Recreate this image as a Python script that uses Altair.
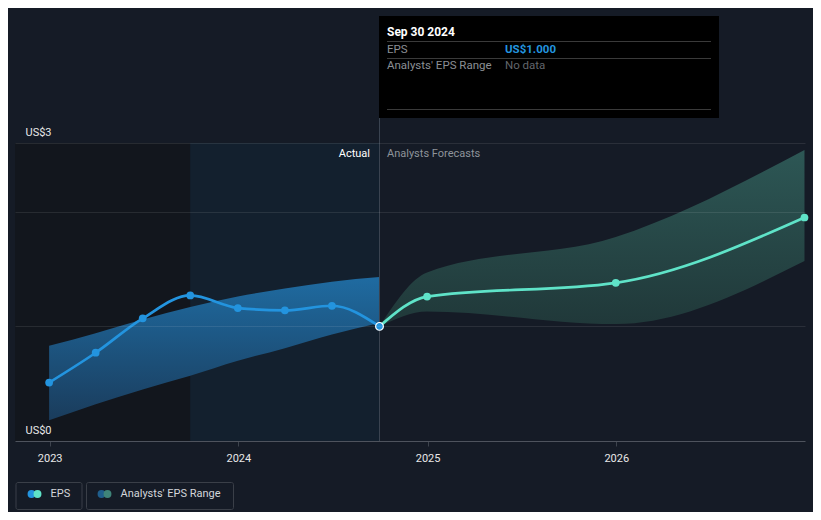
import altair as alt
import pandas as pd

# ---- data ----
actual_dates = ["2022-12-31", "2023-03-31", "2023-06-30", "2023-09-30",
                "2023-12-31", "2024-03-31", "2024-06-30", "2024-09-30"]
actual_eps = [0.51, 0.77, 1.07, 1.27, 1.16, 1.14, 1.18, 1.00]
actual_low = [0.18, 0.32, 0.45, 0.57, 0.70, 0.81, 0.93, 1.03]
actual_high = [0.83, 0.94, 1.06, 1.17, 1.26, 1.33, 1.39, 1.43]

forecast_dates = ["2024-09-30", "2024-12-31", "2025-12-31", "2026-12-31"]
forecast_eps = [1.00, 1.26, 1.38, 1.95]
forecast_low = [1.00, 1.13, 1.02, 1.57]
forecast_high = [1.00, 1.47, 1.78, 2.54]

region_start = ["2022-10-26", "2023-09-30"]
region_end = ["2023-09-30", "2024-09-30"]
region_kind = ["past", "recent"]

now_date = ["2024-09-30"]
year_ticks = [2023, 2024, 2025, 2026]

FONT = "Roboto"
BG = "#151b26"

actual = pd.DataFrame({"date": actual_dates, "eps": actual_eps,
                       "low": actual_low, "high": actual_high})
forecast = pd.DataFrame({"date": forecast_dates, "eps": forecast_eps,
                         "low": forecast_low, "high": forecast_high})
regions = pd.DataFrame({"date": region_start, "end": region_end, "kind": region_kind})
now = pd.DataFrame({"date": now_date, "eps": [actual_eps[-1]]})
deco = pd.DataFrame({"k": [0]})

xscale = alt.Scale(domain=[alt.DateTime(year=2022, month=10, date=26),
                           alt.DateTime(year=2027, month=1, date=1)])
yscale = alt.Scale(domain=[0, 2.6], nice=False, zero=True)

X = alt.X("date:T", scale=xscale, title=None,
          axis=alt.Axis(values=[alt.DateTime(year=y, month=1, date=1) for y in year_ticks],
                        format="%Y", grid=False, domainColor="#3d434d",
                        tickColor="#3d434d", tickSize=5, labelColor="#e8e8e8",
                        labelFontSize=11, labelFont=FONT, labelPadding=6,
                        labelFlush=False))
Y = alt.Y("low:Q", scale=yscale, title=None,
          axis=alt.Axis(values=[0, 1, 2, 2.6], grid=True, gridColor="#ffffff",
                        gridOpacity=0.09,
                        domain=False, ticks=False, labelAlign="left",
                        labelBaseline="bottom", labelPadding=-10, labelOffset=-6,
                        labelColor="#e8e8e8", labelFontSize=11, labelFont=FONT,
                        labelExpr="datum.value == 0 ? 'US$0' : (datum.value > 2.5 ? 'US$3' : '')",
                        zindex=1))

region_layer = alt.Chart(regions).mark_rect().encode(
    x=alt.X("date:T", scale=xscale, title=None),
    x2="end:T",
    y=alt.value(0), y2=alt.value(298),
    color=alt.Color("kind:N", scale=alt.Scale(domain=["past", "recent"],
                                              range=["#12161d", "#13202e"]),
                    legend=None),
)

past_band = alt.Chart(actual).mark_area(
    interpolate="monotone",
    color=alt.Gradient(gradient="linear",
                       stops=[alt.GradientStop(color="#1f6ba1", offset=0),
                              alt.GradientStop(color="#1a3c5c", offset=1)],
                       x1=1, x2=1, y1=0, y2=1),
).encode(x=X, y=Y, y2="high:Q")

fc_band = alt.Chart(forecast).mark_area(
    interpolate="monotone",
    color=alt.Gradient(gradient="linear",
                       stops=[alt.GradientStop(color="#2d5755", offset=0),
                              alt.GradientStop(color="#203839", offset=1)],
                       x1=1, x2=1, y1=0, y2=1),
).encode(x=alt.X("date:T", scale=xscale), y=alt.Y("low:Q", scale=yscale), y2="high:Q")

past_line = alt.Chart(actual).mark_line(
    interpolate="monotone", color="#2394df", strokeWidth=2.7
).encode(x=alt.X("date:T", scale=xscale), y=alt.Y("eps:Q", scale=yscale))

past_pts = alt.Chart(actual.iloc[:-1]).mark_circle(
    color="#2394df", opacity=1, size=60
).encode(x=alt.X("date:T", scale=xscale), y=alt.Y("eps:Q", scale=yscale))

fc_line = alt.Chart(forecast).mark_line(
    interpolate="monotone", color="#5fe3c8", strokeWidth=2.7
).encode(x=alt.X("date:T", scale=xscale), y=alt.Y("eps:Q", scale=yscale))

fc_pts = alt.Chart(forecast.iloc[1:]).mark_circle(
    color="#5fe3c8", opacity=1, size=60
).encode(x=alt.X("date:T", scale=xscale), y=alt.Y("eps:Q", scale=yscale))

now_rule = alt.Chart(now).mark_rule(color="#3b4451", strokeWidth=1, clip=False).encode(
    x=alt.X("date:T", scale=xscale), y=alt.value(-26), y2=alt.value(298))

now_pt = alt.Chart(now).mark_point(
    filled=True, fill="#2394df", stroke="#ffffff", strokeWidth=1.2, size=60, opacity=1
).encode(x=alt.X("date:T", scale=xscale), y=alt.Y("eps:Q", scale=yscale))


def txt(s, x, y, color, size=11, weight="normal", align="left"):
    return alt.Chart(deco).mark_text(
        align=align, baseline="middle", font=FONT, fontSize=size,
        fontWeight=weight, color=color, clip=False
    ).encode(x=alt.value(x), y=alt.value(y), text=alt.value(s))


def hline(x1, x2, y, color):
    return alt.Chart(deco).mark_rule(color=color, strokeWidth=1, clip=False).encode(
        x=alt.value(x1), x2=alt.value(x2), y=alt.value(y))


labels = [
    txt("Actual", 355, 11, "#ffffff", 11, align="right"),
    txt("Analysts Forecasts", 372, 11, "#8e939a", 11),
]

tip_box = alt.Chart(deco).mark_rect(color="#000000", clip=False).encode(
    x=alt.value(364), x2=alt.value(704), y=alt.value(-127), y2=alt.value(-25))

tooltip = [
    tip_box,
    txt("Sep 30 2024", 372, -111.5, "#ffffff", 12, "bold"),
    hline(372, 696, -101.5, "#3a3a3a"),
    txt("EPS", 372, -93.5, "#8b8f95", 11.5),
    txt("US$1.000", 490, -93.5, "#2394df", 11.5, "bold"),
    hline(372, 696, -84.5, "#3a3a3a"),
    txt("Analysts' EPS Range", 372, -77, "#8b8f95", 11.5),
    txt("No data", 490, -77, "#62666c", 11.5),
    hline(372, 696, -33.5, "#3a3a3a"),
]


def box(x1, x2):
    return alt.Chart(deco).mark_rect(
        fill="transparent", stroke="#3a3f48", strokeWidth=1, cornerRadius=2, clip=False
    ).encode(x=alt.value(x1), x2=alt.value(x2), y=alt.value(339.5), y2=alt.value(366.5))


def dot(x, color):
    return alt.Chart(deco).mark_circle(color=color, opacity=1, size=62, clip=False).encode(
        x=alt.value(x), y=alt.value(351))


legend = [
    box(1, 67), dot(16.5, "#2394df"), dot(22.5, "#5fe3c8"),
    txt("EPS", 35.5, 351, "#d3d6da", 11),
    box(71.5, 218.5), dot(86.5, "#1f5e8c"), dot(92.5, "#3f8479"),
    txt("Analysts' EPS Range", 105.5, 351, "#d3d6da", 11),
]

chart = alt.layer(
    region_layer, past_band, fc_band, past_line, past_pts, fc_line, fc_pts,
    now_rule, now_pt, *labels, *tooltip, *legend
).properties(
    width=790, height=298,
    autosize=alt.AutoSizeParams(type="none"),
    padding={"left": 7, "top": 135, "right": 8, "bottom": 71},
    background=BG,
).configure_view(strokeWidth=0)

chart.save("out.html", embed_options={"renderer": "svg", "actions": False})
